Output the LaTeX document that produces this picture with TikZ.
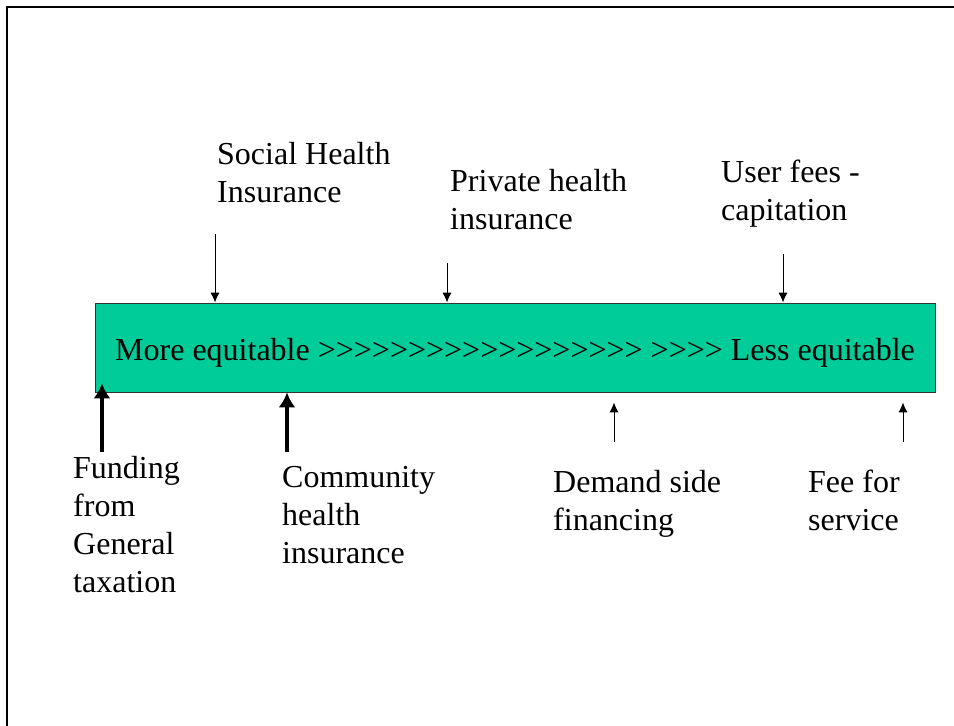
\documentclass[tikz,border=0pt]{standalone}
\usepackage{fontspec}
\setmainfont{Liberation Serif}[Ligatures=TeXOff]
\usepackage{xcolor}
\definecolor{scalegreen}{RGB}{0,204,153}
\usetikzlibrary{arrows.meta}
\usetikzlibrary{positioning}

\begin{document}
\begin{tikzpicture}[x=1pt, y=-1pt,
					thinarrow/.style={line width=1pt, -{Latex[length=10pt, width=9pt]}},
					thickarrow/.style={line width=4.5pt, -{Latex[length=15pt, width=17pt]}},
					txt/.style={anchor=base west, align=left, inner sep=0pt, font=\fontsize{32}{38}\selectfont},
				]
			        \useasboundingbox (0, 0) rectangle (954, 726);
			        \draw[line width=2pt] (7, 726) -- (7, 7) -- (954, 7);

			        % the scale bar
			        \node[draw=black!80, fill=scalegreen, line width=0.8pt, minimum width=840pt, minimum height=89pt,
			              inner sep=0pt, text height=25pt, text depth=0pt, font=\fontsize{32}{38}\selectfont]
			              (scale) at (515, 347.5) {More equitable >>>>>>>>>>>>>>>>>> >>>> Less equitable};

			        % labels above (placed at baseline of last line)
			        \node[txt] (social) at (217, 202) {Social Health\\Insurance};
			        \node[txt] (private) at (450, 229) {Private health\\insurance};
			        \node[txt] (userfees) at (721, 220) {User fees -\\capitation};

			        % labels below
			        \node[txt] (funding) at (73, 592) {Funding\\from\\General\\taxation};
			        \node[txt] (community) at (282, 563) {Community\\health\\insurance};
			        \node[txt] (demand) at (553, 530) {Demand side\\financing};
			        \node[txt] (fee) at (808, 530) {Fee for\\service};

			        % arrow tails
			        \coordinate (s1) at (215, 234);
			        \coordinate (s2) at (447, 263);
			        \coordinate (s3) at (783, 254);
			        \coordinate (b1) at (102, 452);
			        \coordinate (b2) at (287, 452);
			        \coordinate (b3) at (614, 442);
			        \coordinate (b4) at (903, 442);

			        \draw[thinarrow] (s1) -- (s1 |- scale.north);
			        \draw[thinarrow] (s2) -- (s2 |- scale.north);
			        \draw[thinarrow] (s3) -- (s3 |- scale.north);
			        \draw[thickarrow] (b1) -- ([yshift=9pt]b1 |- scale.south);
			        \draw[thickarrow] (b2) -- (b2 |- scale.south);
			        \draw[thinarrow] (b3) -- ([yshift=-10pt]b3 |- scale.south);
			        \draw[thinarrow] (b4) -- ([yshift=-10pt]b4 |- scale.south);
			    \end{tikzpicture}
\end{document}
